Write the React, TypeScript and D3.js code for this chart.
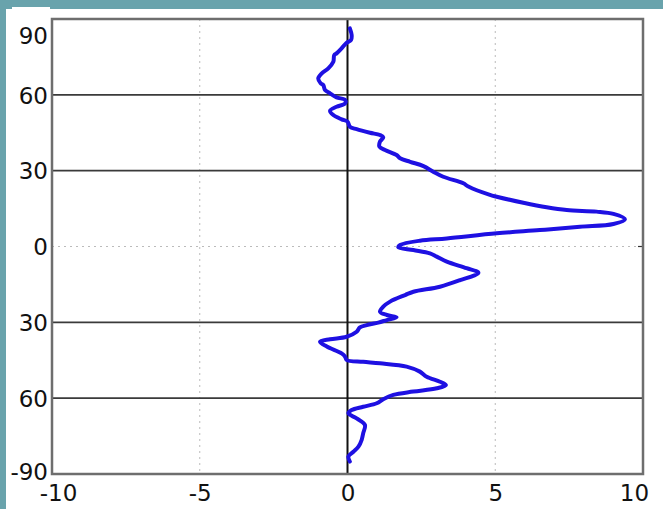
import React, { useEffect, useRef } from "react";
import * as d3 from "d3";

// latitude (deg), top to bottom
const lats = [
  86.3, 83.7, 81.7, 80.6, 78.4, 76.4, 75.7, 73.1, 70.5, 68.5, 66.5, 64.6, 63.9, 61.9, 60.6, 59.0,
  58.0, 56.6, 55.3, 53.7, 52.0, 50.3, 49.4, 47.4, 46.4, 45.0, 44.1, 43.2, 41.5, 39.5, 38.2, 36.2,
  34.9, 33.5, 31.8, 29.6, 27.6, 25.0, 23.7, 20.4, 19.7, 17.3, 15.5, 14.4, 13.8, 12.9, 10.8, 8.9,
  7.8, 6.5, 5.2, 3.2, 2.3, 0.6, -0.3, -1.4, -2.7, -4.0, -6.0, -8.6, -10.4, -13.3, -15.9, -17.9,
  -19.2, -21.8, -23.8, -25.8, -27.1, -28.0, -29.1, -30.1, -31.1, -32.0, -33.7, -35.7, -36.7, -37.7,
  -39.6, -42.3, -43.6, -44.9, -45.6, -46.2, -47.5, -49.5, -51.5, -53.5, -54.8, -56.1, -57.4, -58.7,
  -60.4, -62.0, -63.4, -64.7, -66.0, -68.0, -70.6, -73.9, -76.5, -79.2, -81.2, -83.1, -85.1,
];

const values = [
  0.08, 0.14, 0.12, -0.03, -0.2, -0.37, -0.45, -0.48, -0.65, -0.87, -0.99, -0.91, -0.82, -0.76, -0.59, -0.37,
  -0.08, -0.08, -0.37, -0.59, -0.48, -0.2, 0, 0.08, 0.31, 0.76, 1.1, 1.21, 1.1, 1.08, 1.27, 1.66,
  1.78, 2.12, 2.57, 2.9, 3.24, 3.92, 4.09, 4.82, 5.05, 5.95, 6.74, 7.42, 8.43, 9.0, 9.39, 9.0,
  7.87, 6.51, 5.05, 3.36, 2.45, 1.78, 1.72, 2.23, 2.79, 3.02, 3.36, 4.03, 4.43, 3.81, 3.13, 2.23,
  1.95, 1.44, 1.21, 1.1, 1.33, 1.66, 1.33, 1.04, 0.65, 0.42, 0.31, -0.03, -0.59, -0.93,
  -0.7, -0.2, -0.08, -0.03, 0.53, 1.1, 2.0, 2.45, 2.68, 3.13, 3.33, 3.02, 2.23, 1.55,
  1.21, 0.99, 0.53, 0.14, 0.03, 0.31, 0.59, 0.53, 0.48, 0.37, 0.2, 0.03, 0.08,
];

const xTicks = [-10, -5, 0, 5, 10];
const xTickLabels = ["-10", "-5", "0", "5", "10"];
const yTicks = [-90, -60, -30, 0, 30, 60, 90];
const yTickLabels = ["-90", "60", "30", "0", "30", "60", "90"];

export default function App() {
  const svgRef = useRef<SVGSVGElement | null>(null);

  useEffect(() => {
    const W = 663;
    const H = 509;
    const left = 52, right = 643, top = 19, bottom = 474;
    const font = "DejaVu Sans, sans-serif";

    const svg = d3.select(svgRef.current);
    svg.selectAll("*").remove();
    svg.attr("width", W).attr("height", H);

    // teal frame + white card
    svg.append("rect").attr("width", W).attr("height", H).attr("fill", "#69a3ac");
    svg.append("rect").attr("x", 6).attr("y", 9).attr("width", W - 6).attr("height", H - 9).attr("fill", "#fff");
    svg.append("rect").attr("x", 12).attr("y", 7).attr("width", 38).attr("height", 3).attr("fill", "#fff");

    const x = d3.scaleLinear().domain([-10, 10]).range([left, right]);
    const y = d3.scaleLinear().domain([-90, 90]).range([bottom, top]);

    const g = svg.append("g");

    // light dotted grid at x = ±5 and y = 0
    [-5, 5].forEach((v) => {
      g.append("line")
        .attr("x1", x(v)).attr("x2", x(v)).attr("y1", top).attr("y2", bottom)
        .attr("stroke", "#bbb").attr("stroke-width", 1).attr("stroke-dasharray", "2,4");
    });
    g.append("line")
      .attr("x1", left).attr("x2", right).attr("y1", y(0)).attr("y2", y(0))
      .attr("stroke", "#bbb").attr("stroke-width", 1).attr("stroke-dasharray", "2,4");

    // dark lines at ±30, ±60
    [-60, -30, 30, 60].forEach((v) => {
      g.append("line")
        .attr("x1", left).attr("x2", right).attr("y1", y(v)).attr("y2", y(v))
        .attr("stroke", "#3a3a3a").attr("stroke-width", 1.6);
    });

    // vertical zero line
    g.append("line")
      .attr("x1", x(0)).attr("x2", x(0)).attr("y1", top).attr("y2", bottom)
      .attr("stroke", "#111").attr("stroke-width", 2);

    // inner tick on right at y = 0
    g.append("line")
      .attr("x1", right - 5).attr("x2", right).attr("y1", y(0)).attr("y2", y(0))
      .attr("stroke", "#333").attr("stroke-width", 1.2);

    // data line
    const pts: [number, number][] = lats.map((la, i) => [values[i], la]);
    const line = d3
      .line<[number, number]>()
      .x((d) => x(d[0]))
      .y((d) => y(d[1]))
      .curve(d3.curveCatmullRom.alpha(0.5));
    g.append("path")
      .datum(pts)
      .attr("fill", "none")
      .attr("stroke", "#1e10e2")
      .attr("stroke-width", 4)
      .attr("stroke-linejoin", "round")
      .attr("stroke-linecap", "round")
      .attr("d", line);

    // frame
    g.append("rect")
      .attr("x", left).attr("y", top).attr("width", right - left).attr("height", bottom - top)
      .attr("fill", "none").attr("stroke", "#6e6e6e").attr("stroke-width", 2.5);

    // y axis labels
    const yAxis = d3
      .axisLeft(y)
      .tickValues(yTicks)
      .tickSize(0)
      .tickPadding(4)
      .tickFormat((d, i) => yTickLabels[i]);
    const ya = svg.append("g").attr("transform", `translate(${left},0)`).call(yAxis);
    ya.select(".domain").remove();
    ya.selectAll("text")
      .attr("font-family", font)
      .attr("font-size", 23)
      .attr("fill", "#111")
      .attr("dy", (d: any) => (d === 90 ? "1.05em" : d === -90 ? "0.22em" : "0.36em"));

    // x axis labels
    const xAxis = d3
      .axisBottom(x)
      .tickValues(xTicks)
      .tickSize(0)
      .tickPadding(11)
      .tickFormat((d, i) => xTickLabels[i]);
    const xa = svg.append("g").attr("transform", `translate(0,${bottom})`).call(xAxis);
    xa.select(".domain").remove();
    xa.selectAll("text")
      .attr("font-family", font)
      .attr("font-size", 23)
      .attr("fill", "#111")
      .attr("dx", (d: any) => (d === -10 ? 6 : d === 10 ? -9 : 0));
  }, []);

  return (
    <div style={{ position: "fixed", left: 0, top: 0, width: 663, height: 509 }}>
      <svg ref={svgRef} style={{ display: "block" }}></svg>
    </div>
  );
}
